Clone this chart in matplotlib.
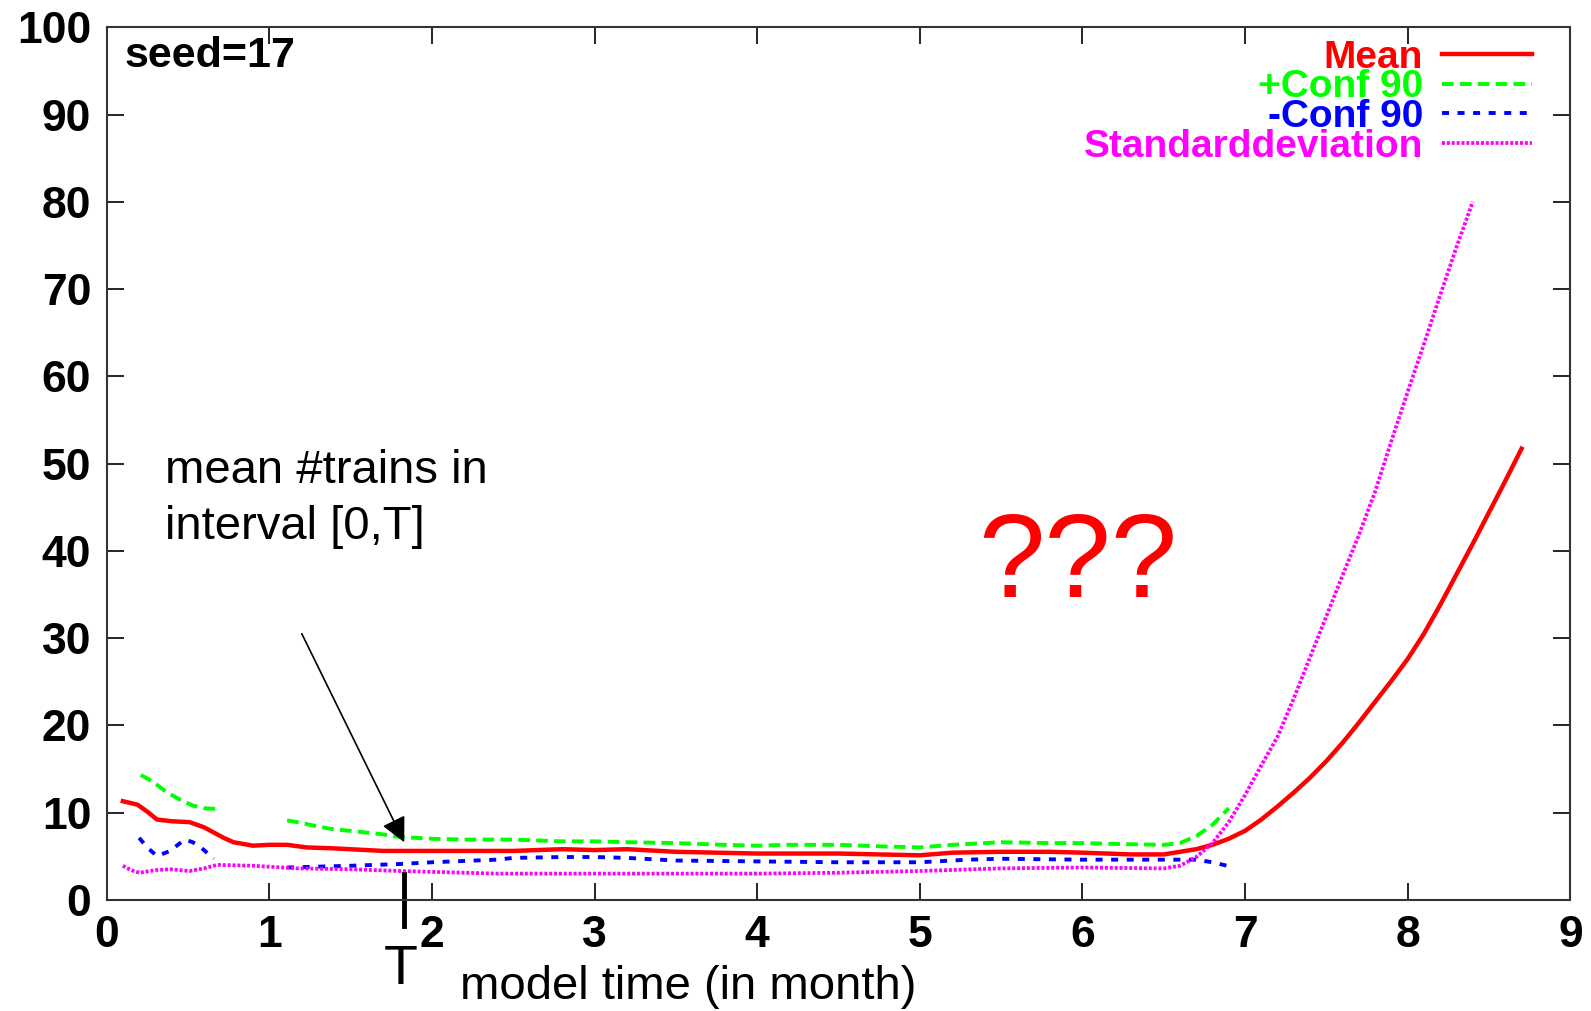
import numpy as np
import matplotlib
matplotlib.use("Agg")
import matplotlib.pyplot as plt

plt.rcParams['font.family'] = ['Liberation Sans', 'DejaVu Sans']

nan = float('nan')

mean_t = [0.10, 0.19, 0.25, 0.31, 0.40, 0.51, 0.60, 0.66, 0.72, 0.78, 0.90, 1.00, 1.11, 1.23, 1.39, 1.70,
          2.00, 2.50, 2.80, 3.00, 3.20, 3.50, 4.00, 4.50, 5.00, 5.20, 5.50, 5.80, 6.00, 6.30, 6.50,
          6.60, 6.70, 6.80, 6.90, 7.00, 7.10, 7.20, 7.30, 7.40, 7.50, 7.60, 7.70, 7.80, 7.90, 8.00, 8.10,
          8.20, 8.30, 8.40, 8.50, 8.60, 8.70]
mean_v = [11.3, 10.9, 10.1, 9.2, 9.0, 8.9, 8.3, 7.7, 7.1, 6.6, 6.2, 6.3, 6.3, 6.0, 5.9, 5.6,
          5.6, 5.6, 5.8, 5.7, 5.8, 5.5, 5.3, 5.3, 5.1, 5.4, 5.5, 5.5, 5.4, 5.2, 5.2,
          5.5, 5.8, 6.3, 7.0, 7.9, 9.2, 10.7, 12.3, 14.0, 15.9, 18.0, 20.3, 22.7, 25.1, 27.6, 30.5,
          33.8, 37.3, 40.8, 44.4, 48.0, 51.7]

conf_plus_t = [0.21, 0.28, 0.35, 0.41, 0.47, 0.53, 0.60, 0.69, nan,
               1.11, 1.20, 1.30, 1.39, 1.50, 1.60, 1.70, 1.80, 2.00, 2.20, 2.50, 2.80, 3.00, 3.20, 3.50,
               3.80, 4.00, 4.20, 4.50, 4.80, 5.00, 5.20, 5.50, 5.80, 6.00, 6.20, 6.50, 6.60, 6.70, 6.80, 6.90]
conf_plus_v = [14.3, 13.6, 12.6, 11.9, 11.3, 10.8, 10.5, 10.4, nan,
               9.1, 8.8, 8.4, 8.1, 7.9, 7.7, 7.5, 7.2, 7.0, 6.9, 6.9, 6.7, 6.7, 6.6, 6.5,
               6.3, 6.2, 6.3, 6.3, 6.1, 6.0, 6.3, 6.6, 6.5, 6.5, 6.4, 6.3, 6.5, 7.3, 8.6, 10.5]

conf_minus_t = [0.20, 0.25, 0.31, 0.39, 0.48, 0.53, 0.58, 0.66, nan,
                1.11, 1.30, 1.50, 1.80, 2.00, 2.40, 2.50, 2.80, 3.00, 3.20, 3.50, 4.00, 4.50,
                5.00, 5.30, 5.50, 6.00, 6.50, 6.70, 6.80, 6.89]
conf_minus_v = [7.1, 6.0, 5.0, 5.6, 6.9, 6.6, 6.0, 4.7, nan,
                3.7, 3.8, 3.9, 4.1, 4.3, 4.6, 4.8, 4.9, 4.9, 4.8, 4.5, 4.4, 4.3,
                4.3, 4.6, 4.7, 4.6, 4.6, 4.6, 4.3, 3.9]

std_t = [0.10, 0.15, 0.20, 0.30, 0.39, 0.51, 0.60, 0.68, 0.90, 1.17, 1.50, 1.80, 2.40, 3.00, 3.50,
         4.00, 4.50, 5.00, 5.50, 6.00, 6.50, 6.60, 6.70, 6.80, 6.90, 7.00, 7.10, 7.20, 7.30, 7.40,
         7.50, 7.60, 7.70, 7.80, 7.90, 8.00, 8.10, 8.20, 8.30, 8.40]
std_v = [3.9, 3.4, 3.1, 3.4, 3.5, 3.3, 3.6, 4.0, 3.9, 3.6, 3.5, 3.3, 3.0, 3.0, 3.0,
         3.0, 3.1, 3.3, 3.6, 3.7, 3.6, 3.9, 4.9, 6.5, 8.9, 12.0, 15.4, 18.7, 23.1, 27.8,
         32.5, 37.2, 41.8, 46.8, 52.6, 58.2, 63.7, 69.3, 74.8, 80.0]

labels = ["Mean", "+Conf 90", "-Conf 90", "Standarddeviation"]
x_ticks = list(range(0, 10))
y_ticks = list(range(0, 101, 10))

fig = plt.figure(figsize=(15.91, 10.11), dpi=100)
ax = fig.add_axes([0.067, 0.110, 0.920, 0.863])

ax.plot(mean_t, mean_v, color='#ff0000', lw=3.2, label=labels[0])
ax.plot(conf_plus_t, conf_plus_v, color='#00ff00', lw=2.8, linestyle=(0, (3, 1.6)), label=labels[1])
ax.plot(conf_minus_t, conf_minus_v, color='#0000ff', lw=2.8, linestyle=(0, (1.8, 2.2)), label=labels[2])
ax.plot(std_t, std_v, color='#ff00ff', lw=2.7, linestyle=(0, (0.8, 0.5)), label=labels[3])

ax.set_xlim(0, 9)
ax.set_ylim(0, 100)
ax.set_xticks(x_ticks)
ax.set_yticks(y_ticks)
ax.tick_params(direction='in', length=12, width=1.2, top=True, right=True,
               labelsize=32, pad=11)
for lab in ax.get_xticklabels() + ax.get_yticklabels():
    lab.set_fontweight('bold')
for s in ax.spines.values():
    s.set_linewidth(1.5)
    s.set_color('#333333')

leg = ax.legend(loc='upper right', bbox_to_anchor=(0.9737, 0.986), frameon=False,
                markerfirst=False, labelcolor='linecolor', borderpad=0, borderaxespad=0,
                handlelength=2.3, handletextpad=0.5, labelspacing=-0.16,
                prop={'weight': 'bold', 'size': 28})

ax.text(0.012, 0.99, "seed=17", transform=ax.transAxes, ha='left', va='top',
        fontsize=31, fontweight='bold')

ax.text(0.36, 51.7, "mean #trains in\ninterval [0,T]", ha='left', va='top', fontsize=34,
        linespacing=1.35)
ax.annotate('', xy=(1.83, 6.6), xytext=(1.2, 30.5),
            arrowprops=dict(arrowstyle='-|>', color='black', lw=1.2, mutation_scale=38,
                            shrinkA=0, shrinkB=0))
ax.text(5.97, 38.2, "???", color='#ff0000', ha='center', va='center', fontsize=86)

ax.plot([1.83, 1.83], [3.0, -3.0], color='black', lw=3.5, clip_on=False)
ax.text(1.81, -8.0, "T", ha='center', va='center', fontsize=40, clip_on=False)
ax.text(2.17, -10.0, "model time (in month)", ha='left', va='center', fontsize=34, clip_on=False)

fig.savefig("out.png", dpi=100)
